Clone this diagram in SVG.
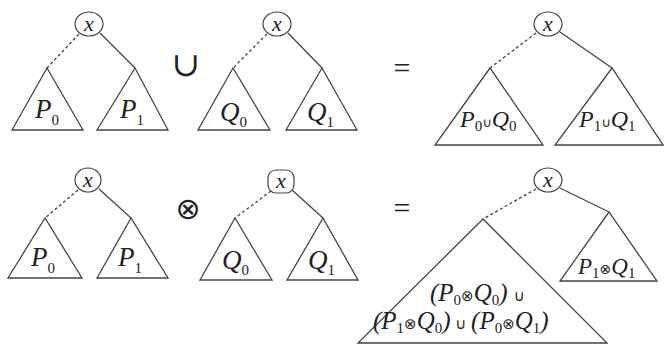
<svg xmlns="http://www.w3.org/2000/svg" width="664" height="346" viewBox="0 0 664 346">
<style>
.e{fill:none;stroke:#444;stroke-width:1.3}
.d{fill:none;stroke:#444;stroke-width:1.3;stroke-dasharray:3,2.5}
.n{fill:#fff;stroke:#444;stroke-width:1.2}
.t{font-family:"Liberation Serif",serif;font-style:italic;fill:#222}
.s{font-style:normal;font-size:15px}
.o{font-family:"Liberation Serif","DejaVu Serif",serif;fill:#222}
.so{font-family:"DejaVu Sans",sans-serif;font-style:normal;fill:#222}
</style>
<rect width="664" height="346" fill="#fff"/>
<g id="connectors">
<line class="d" x1="79" y1="34" x2="47" y2="68"/>
<line class="e" x1="100" y1="33" x2="135" y2="68"/>
<line class="d" x1="267" y1="34" x2="233" y2="68"/>
<line class="e" x1="288" y1="33" x2="322" y2="68"/>
<line class="d" x1="536" y1="33" x2="490" y2="68"/>
<line class="e" x1="560" y1="32" x2="612" y2="68"/>
<line class="d" x1="78" y1="190" x2="45" y2="218"/>
<line class="e" x1="99" y1="189" x2="131" y2="218"/>
<line class="d" x1="271" y1="191" x2="235" y2="218"/>
<line class="e" x1="292" y1="190" x2="323" y2="218"/>
<line class="d" x1="536" y1="189" x2="483" y2="219"/>
<line class="e" x1="560" y1="188" x2="609" y2="212"/>
</g>
<g id="tree1">
<ellipse class="n" cx="89" cy="24" rx="14" ry="12"/>
<text class="t" x="89" y="31" font-size="22" text-anchor="middle">x</text>
<g id="t1L"><polygon class="e" points="47,68 12,130 83,130"/><text class="t" x="35" y="118" font-size="27">P<tspan class="s" dy="7">0</tspan></text></g>
<g id="t1R"><polygon class="e" points="135,68 97,130 168,130"/><text class="t" x="120" y="118" font-size="27">P<tspan class="s" dy="7">1</tspan></text></g>
</g>
<g id="union"><text class="o" x="186" y="76" font-size="34" text-anchor="middle">∪</text></g>
<g id="tree2">
<ellipse class="n" cx="277" cy="24" rx="14" ry="12"/>
<text class="t" x="277" y="31" font-size="22" text-anchor="middle">x</text>
<g id="t2L"><polygon class="e" points="233,68 198,130 270,130"/><text class="t" x="220" y="121" font-size="27">Q<tspan class="s" dy="6">0</tspan></text></g>
<g id="t2R"><polygon class="e" points="322,68 286,130 357,130"/><text class="t" x="307" y="121" font-size="27">Q<tspan class="s" dy="6">1</tspan></text></g>
</g>
<g id="eq1"><text class="o" x="402" y="78" font-size="30" text-anchor="middle">=</text></g>
<g id="tree3">
<ellipse class="n" cx="548" cy="24" rx="14" ry="12"/>
<text class="t" x="548" y="31" font-size="22" text-anchor="middle">x</text>
<g id="t3L"><polygon class="e" points="490,68 435,145 543,145"/><text class="t" x="460" y="127" font-size="24">P<tspan class="s" font-size="13" dy="4">0</tspan><tspan class="so" font-size="13" dy="-4">∪</tspan>Q<tspan class="s" font-size="13" dy="4">0</tspan></text></g>
<g id="t3R"><polygon class="e" points="612,68 555,145 663,145"/><text class="t" x="579" y="127" font-size="24">P<tspan class="s" font-size="13" dy="4">1</tspan><tspan class="so" font-size="13" dy="-4">∪</tspan>Q<tspan class="s" font-size="13" dy="4">1</tspan></text></g>
</g>
<g id="tree4">
<ellipse class="n" cx="88" cy="180" rx="13" ry="12"/>
<text class="t" x="88" y="187" font-size="22" text-anchor="middle">x</text>
<g id="t4L"><polygon class="e" points="45,218 8,278 82,278"/><text class="t" x="31" y="266" font-size="27">P<tspan class="s" dy="7">0</tspan></text></g>
<g id="t4R"><polygon class="e" points="131,218 97,278 168,278"/><text class="t" x="118" y="266" font-size="27">P<tspan class="s" dy="7">1</tspan></text></g>
</g>
<g id="otimes"><text class="so" x="188" y="219" font-size="30" text-anchor="middle">⊗</text></g>
<g id="tree5">
<rect class="n" x="268" y="170" width="26" height="23" rx="8"/>
<text class="t" x="281" y="188" font-size="22" text-anchor="middle">x</text>
<g id="t5L"><polygon class="e" points="235,218 200,280 272,280"/><text class="t" x="222" y="269" font-size="27">Q<tspan class="s" dy="6">0</tspan></text></g>
<g id="t5R"><polygon class="e" points="323,218 287,280 358,280"/><text class="t" x="308" y="269" font-size="27">Q<tspan class="s" dy="6">1</tspan></text></g>
</g>
<g id="eq2"><text class="o" x="402" y="218" font-size="30" text-anchor="middle">=</text></g>
<g id="tree6">
<ellipse class="n" cx="548" cy="180" rx="14" ry="12"/>
<text class="t" x="548" y="187" font-size="22" text-anchor="middle">x</text>
<g id="t6R"><polygon class="e" points="609,212 560,281 657,281"/><text class="t" x="578" y="274" font-size="23">P<tspan class="s" font-size="13" dy="4">1</tspan><tspan class="so" font-size="14" dy="-4">⊗</tspan>Q<tspan class="s" font-size="13" dy="4">1</tspan></text></g>
<g id="t6L"><polygon class="e" points="483,219 358,343 607,343"/>
<text class="t" x="430" y="301" font-size="25">(P<tspan class="s" font-size="14" dy="4">0</tspan><tspan class="so" font-size="15" dy="-4">⊗</tspan>Q<tspan class="s" font-size="14" dy="4">0</tspan><tspan dy="-4">) </tspan><tspan class="so" font-size="15">∪</tspan></text>
<text class="t" x="373" y="329" font-size="25">(P<tspan class="s" font-size="14" dy="4">1</tspan><tspan class="so" font-size="15" dy="-4">⊗</tspan>Q<tspan class="s" font-size="14" dy="4">0</tspan><tspan dy="-4">)</tspan><tspan class="so" font-size="15"> ∪ </tspan>(P<tspan class="s" font-size="14" dy="4">0</tspan><tspan class="so" font-size="15" dy="-4">⊗</tspan>Q<tspan class="s" font-size="14" dy="4">1</tspan><tspan dy="-4">)</tspan></text>
</g>
</g>
</svg>
